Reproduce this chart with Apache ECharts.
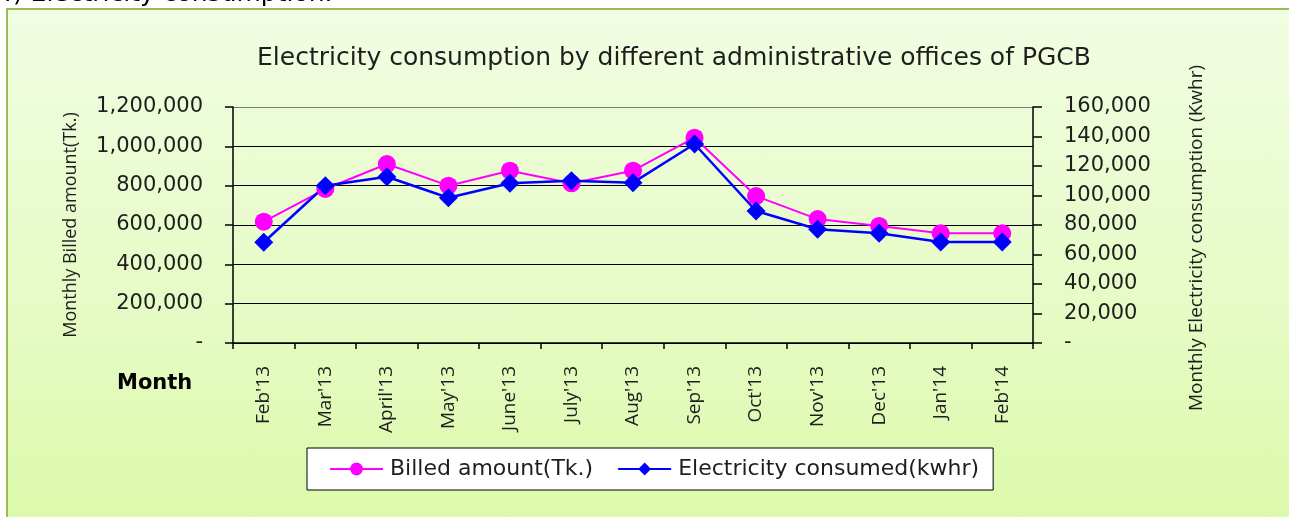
<!DOCTYPE html>
<html>
<head>
<meta charset="utf-8">
<title>Electricity consumption</title>
<script src="https://cdn.jsdelivr.net/npm/echarts@6/dist/echarts.min.js"></script>
<style>
  html, body {
    margin: 0;
    padding: 0;
    background: #ffffff;
    overflow: hidden;
  }
  .wrap {
    position: relative;
    width: 1289px;
    height: 517px;
    overflow: hidden;
  }
  .frame {
    position: absolute;
    left: 6px;
    top: 8px;
    width: 1300px;
    height: 530px;
    border: 2px solid #9bbb59;
    background: linear-gradient(to bottom, #f1fde2 0%, #e6fbc6 55%, #dbf9a8 100%);
  }
  #chart {
    position: absolute;
    left: 0;
    top: 0;
    width: 1289px;
    height: 517px;
  }
</style>
</head>
<body>
<div class="wrap">
  <div class="frame"></div>
  <div id="chart"></div>
</div>
<script>
// categories and values
const months = ["Feb'13", "Mar'13", "April'13", "May'13", "June'13", "July'13", "Aug'13",
  "Sep'13", "Oct'13", "Nov'13", "Dec'13", "Jan'14", "Feb'14"]
const billedAmount = [617000, 783000, 910000, 800000, 876000, 812000, 876000,
  1044000, 747000, 630000, 595000, 558000, 558000]
const energyKwh = [68300, 106600, 112700, 98500, 108300, 110000, 108700,
  134900, 89500, 77100, 74400, 68500, 68500]

// wide face for horizontal text, narrower one for the rotated text
const WIDE = '"DejaVu Sans", "Open Sans", sans-serif'
const NARROW = '"Open Sans", "Noto Sans", sans-serif'
const TEXT = '#1e1e1e'

const fmt = (v) => (v === 0 ? '-' : v.toLocaleString('en-US'))

// vertical axis titles
const axisTitle = (text, x, y) => ({
  type: 'text',
  x: x,
  y: y,
  rotation: Math.PI / 2,
  style: { text: text, font: '18px ' + NARROW, fill: TEXT, align: 'center', verticalAlign: 'middle' }
})

const chart = echarts.init(document.getElementById('chart'), null, { renderer: 'canvas' })

const option = {
  backgroundColor: 'transparent',
  animation: false,
  textStyle: { fontFamily: WIDE },
  title: {
    text: 'Electricity consumption by different administrative offices of PGCB',
    left: 669,
    textAlign: 'center',
    top: 41,
    textStyle: { fontFamily: WIDE, fontSize: 25, fontWeight: 'normal', color: TEXT }
  },
  graphic: [
    {
      type: 'text',
      left: -3,
      top: -18,
      style: { text: '4) Electricity consumption.', font: '25px ' + WIDE, fill: '#000' }
    },
    {
      type: 'text',
      left: 117,
      top: 373,
      style: { text: 'Month', font: 'bold 21px ' + WIDE, fill: '#000' }
    },
    axisTitle('Monthly Billed amount(Tk.)', 71, 225),
    Object.assign(axisTitle('Monthly Electricity consumption (Kwhr)', 1197, 238),
      { style: { text: 'Monthly Electricity consumption (Kwhr)', font: '19px ' + NARROW, fill: TEXT, align: 'center', verticalAlign: 'middle' } })
  ],
  legend: {
    left: 307,
    top: 448,
    padding: [10, 14, 10, 22],
    backgroundColor: '#ffffff',
    borderColor: '#000000',
    borderWidth: 1,
    borderRadius: 0,
    itemWidth: 53,
    itemHeight: 16,
    itemGap: 24,
    textStyle: { fontFamily: WIDE, fontSize: 22, color: TEXT, padding: [0, 0, 0, 2] },
    data: ['Billed amount(Tk.)', 'Electricity consumed(kwhr)']
  },
  grid: {
    left: 233,
    right: 256,
    top: 107,
    bottom: 174,
    containLabel: false
  },
  xAxis: {
    type: 'category',
    data: months,
    boundaryGap: true,
    axisLine: { lineStyle: { color: '#000', width: 1.5 } },
    axisTick: { show: true, length: 6, lineStyle: { color: '#000', width: 1.5 } },
    axisLabel: {
      rotate: 90,
      margin: 23,
      interval: 0,
      fontFamily: NARROW,
      fontSize: 19,
      color: TEXT
    }
  },
  yAxis: [
    {
      type: 'value',
      min: 0,
      max: 1200000,
      interval: 200000,
      position: 'left',
      axisLine: { show: true, lineStyle: { color: '#000', width: 1.5 } },
      axisTick: { show: true, length: 8, lineStyle: { color: '#000', width: 1.5 } },
      axisLabel: { margin: 30, formatter: fmt, fontFamily: WIDE, fontSize: 21, color: TEXT },
      splitLine: {
        show: true,
        lineStyle: { color: ['#000', '#000', '#000', '#000', '#000', '#000', '#7a7a7a'], width: 1 }
      }
    },
    {
      type: 'value',
      min: 0,
      max: 160000,
      interval: 20000,
      position: 'right',
      axisLine: { show: true, lineStyle: { color: '#000', width: 1.5 } },
      axisTick: { show: true, length: 9, lineStyle: { color: '#000', width: 1.5 } },
      axisLabel: { margin: 31, formatter: fmt, fontFamily: WIDE, fontSize: 21, color: TEXT },
      splitLine: { show: false }
    }
  ],
  series: [
    {
      name: 'Billed amount(Tk.)',
      type: 'line',
      yAxisIndex: 0,
      data: billedAmount,
      symbol: 'circle',
      symbolSize: 18,
      lineStyle: { color: '#ff00ff', width: 2 },
      itemStyle: { color: '#ff00ff' }
    },
    {
      name: 'Electricity consumed(kwhr)',
      type: 'line',
      yAxisIndex: 1,
      data: energyKwh,
      symbol: 'diamond',
      symbolSize: 19,
      lineStyle: { color: '#0000ff', width: 2.5 },
      itemStyle: { color: '#0000ff' }
    }
  ]
}

chart.setOption(option)
</script>
</body>
</html>
